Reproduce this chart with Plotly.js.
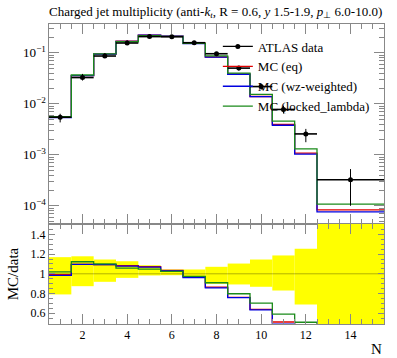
<!DOCTYPE html>
<html>
<head>
<meta charset="utf-8">
<script src="https://cdn.plot.ly/plotly-3.0.1.min.js"></script>
<style>html,body{margin:0;padding:0;background:#fff;}#chart{width:397px;height:358px;}</style>
</head>
<body>
<div id="chart"></div>
<script>
// ---- data ----
const binEdges = [0.5, 1.5, 2.5, 3.5, 4.5, 5.5, 6.5, 7.5, 8.5, 9.5, 10.5, 11.5, 12.5, 15.5];
const dataVals = [5.44e-3, 0.0326, 0.0861, 0.155, 0.207, 0.205, 0.157, 0.0955, 0.0499, 0.0217, 7.72e-3, 2.56e-3, 3.23e-4];
const dataErrUp = [9.2e-4, 5.8e-3, 0.0125, 0.0198, 0.018, 0.009, 0.0069, 0.0068, 0.0052, 3.15e-3, 1.44e-3, 6.5e-4, 2.0e-4];
const dataErrDown = [1.14e-3, 4.1e-3, 7.0e-3, 6.4e-3, 3.5e-3, 2.9e-3, 6.3e-3, 9.7e-3, 5.4e-3, 2.86e-3, 1.31e-3, 8.0e-4, 2.23e-4];
const mcEq = [5.40e-3, 0.0357, 0.0942, 0.168, 0.222, 0.212, 0.152, 0.0825, 0.0380, 0.01385, 3.94e-3, 1.08e-3, 8.3e-5];
const mcWz = [5.35e-3, 0.0357, 0.0942, 0.167, 0.221, 0.211, 0.151, 0.0819, 0.0378, 0.01376, 3.78e-3, 1.03e-3, 7.6e-5];
const mcLocked = [5.55e-3, 0.0366, 0.0947, 0.164, 0.217, 0.210, 0.153, 0.0868, 0.0398, 0.01523, 4.55e-3, 1.30e-3, 1.08e-4];
const seriesNames = ['ATLAS data', 'MC (eq)', 'MC (wz-weighted)', 'MC (locked_lambda)'];
const seriesColors = ['#000000', '#e00000', '#0000e0', '#1a8a1a'];

// ---- derived ----
const centers = [], halfW = [], widths = [];
for (let i = 0; i < binEdges.length - 1; i++) {
  centers.push((binEdges[i] + binEdges[i + 1]) / 2);
  widths.push(binEdges[i + 1] - binEdges[i]);
  halfW.push((binEdges[i + 1] - binEdges[i]) / 2);
}
const stepY = v => v.concat([v[v.length - 1]]);
const ratio = v => v.map((x, i) => x / dataVals[i]);
const bandLo = dataVals.map((d, i) => 1 - dataErrDown[i] / d);
const bandHi = dataVals.map((d, i) => 1 + dataErrUp[i] / d);

const FONT = '"Liberation Serif", "Times New Roman", serif';
const traces = [];
const mcs = [mcEq, mcWz, mcLocked];

// ratio band
traces.push({
  type: 'bar', x: centers, width: widths, base: bandLo,
  y: bandHi.map((h, i) => h - bandLo[i]),
  marker: {color: '#ffff00', line: {width: 0}},
  xaxis: 'x2', yaxis: 'y2', showlegend: false, hoverinfo: 'skip'
});
// data ratio line
traces.push({
  type: 'scatter', mode: 'lines', x: binEdges, y: stepY(ratio(dataVals)), line: {shape: 'hv', color: 'rgba(0,0,0,0.3)', width: 1},
  xaxis: 'x2', yaxis: 'y2', showlegend: false, hoverinfo: 'skip'
});
// MC ratio lines
mcs.forEach((m, k) => {
  traces.push({
    type: 'scatter', mode: 'lines', x: binEdges, y: stepY(ratio(m)),
    line: {shape: 'hv', color: seriesColors[k + 1], width: 1.3},
    xaxis: 'x2', yaxis: 'y2', showlegend: false, hoverinfo: 'skip'
  });
});
// MC main lines
mcs.forEach((m, k) => {
  traces.push({
    type: 'scatter', mode: 'lines', x: binEdges, y: stepY(m), name: seriesNames[k + 1],
    line: {shape: 'hv', color: seriesColors[k + 1], width: 1.3},
    xaxis: 'x', yaxis: 'y', legendrank: k + 2
  });
});
// data points
traces.push({
  type: 'scatter', mode: 'markers', x: centers, y: dataVals, name: seriesNames[0],
  marker: {color: '#000', size: 5},
  error_y: {type: 'data', symmetric: false, array: dataErrUp, arrayminus: dataErrDown, color: '#000', thickness: 1, width: 0},
  error_x: {type: 'data', array: halfW, color: '#000', thickness: 1.6, width: 0},
  xaxis: 'x', yaxis: 'y', showlegend: false
});
// legend entry for the data
traces.push({
  type: 'scatter', mode: 'lines+markers', x: [null], y: [null], name: seriesNames[0],
  line: {color: '#000', width: 1.3}, marker: {color: '#000', size: 5},
  xaxis: 'x', yaxis: 'y', legendrank: 1
});

const axCol = '#888888';
const layout = {
  width: 397, height: 358,
  margin: {l: 49, r: 13, t: 24, b: 34},
  paper_bgcolor: '#fff', plot_bgcolor: '#fff',
  font: {family: FONT, color: '#000', size: 12},
  showlegend: true,
  legend: {x: 0.504, xanchor: 'left', y: 0.975, yanchor: 'top', bgcolor: 'rgba(0,0,0,0)',
           font: {family: FONT, size: 13}, tracegroupgap: 0},
  title: {text: 'Charged jet multiplicity (anti-<i>k</i><sub><i>t</i></sub>, R = 0.6, <i>y</i> 1.5-1.9, <i>p</i><sub>⊥</sub> 6.0-10.0)',
          font: {family: FONT, size: 13}, x: 0, xref: 'paper', xanchor: 'left', y: 1 - 11 / 358, yref: 'container', yanchor: 'middle'},
  xaxis: {domain: [0, 1], range: [0.5, 15.5], anchor: 'y', matches: 'x2', showticklabels: false,
          dtick: 2, tick0: 0, ticks: 'inside', ticklen: 10, tickcolor: axCol, showline: true, linecolor: axCol, linewidth: 1,
          mirror: 'ticks', showgrid: false, zeroline: false,
          minor: {ticks: 'inside', dtick: 0.5, ticklen: 5, tickcolor: axCol, showgrid: false}},
  yaxis: {domain: [0.333, 1], type: 'log', range: [-4.36, -0.437], anchor: 'x', dtick: 1, exponentformat: 'power',
          ticks: 'inside', ticklen: 10, tickcolor: axCol, showline: true, linecolor: axCol, linewidth: 1, mirror: 'ticks',
          showgrid: false, zeroline: false, tickfont: {family: FONT, size: 10.5},
          minor: {ticks: 'inside', dtick: 'D1', ticklen: 5, tickcolor: axCol, showgrid: false}},
  xaxis2: {domain: [0, 1], range: [0.5, 15.5], anchor: 'y2', dtick: 2, tick0: 0,
           ticks: 'inside', ticklen: 10, tickcolor: axCol, showline: true, linecolor: axCol, linewidth: 1, mirror: 'ticks',
           showgrid: false, zeroline: false, tickfont: {family: FONT, size: 12},
           minor: {ticks: 'inside', dtick: 0.5, ticklen: 5, tickcolor: axCol, showgrid: false}},
  yaxis2: {domain: [0, 0.333], range: [0.49, 1.505], anchor: 'x2', dtick: 0.2, tick0: 0,
           ticks: 'inside', ticklen: 6, tickcolor: axCol, showline: true, linecolor: axCol, linewidth: 1, mirror: 'ticks',
           showgrid: false, zeroline: false, tickfont: {family: FONT, size: 12},
           title: {text: 'MC/data', font: {family: FONT, size: 15}, standoff: 8},
           minor: {ticks: 'inside', dtick: 0.05, ticklen: 3.5, tickcolor: axCol, showgrid: false}},
  annotations: [{text: 'N', xref: 'paper', yref: 'paper', x: 1, y: -0.083, xanchor: 'right', yanchor: 'middle',
                 showarrow: false, font: {family: FONT, size: 15}}]
};

Plotly.newPlot('chart', traces, layout, {displayModeBar: false, staticPlot: true});
</script>
</body>
</html>
